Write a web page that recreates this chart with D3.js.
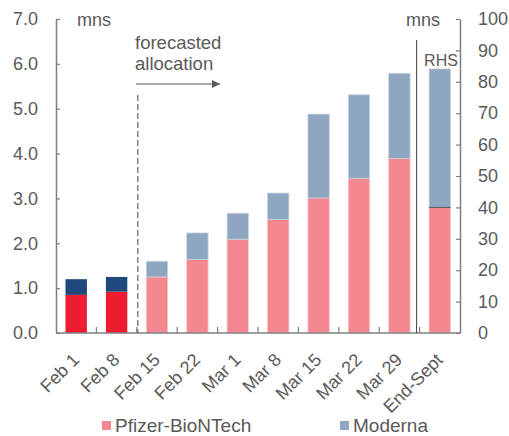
<!DOCTYPE html>
<html>
<head>
<meta charset="utf-8">
<script src="https://cdn.jsdelivr.net/npm/d3@7"></script>
<style>
  html, body { margin: 0; padding: 0; background: #fff; }
  svg { display: block; font-family: "Liberation Sans", Arial, sans-serif; }
</style>
</head>
<body>
<svg id="chart" width="509" height="436"></svg>
<script>
// Weekly vaccine allocations (millions of doses); last bar is read on the right-hand axis
const categories = ["Feb 1", "Feb 8", "Feb 15", "Feb 22", "Mar 1", "Mar 8", "Mar 15", "Mar 22", "Mar 29", "End-Sept"];
const pfizer  = [0.85, 0.92, 1.25, 1.64, 2.09, 2.53, 3.01, 3.45, 3.89, 40.0];
const moderna = [0.35, 0.33, 0.35, 0.59, 0.58, 0.59, 1.87, 1.86, 1.90, 44.1];
const isActual = [true, true, false, false, false, false, false, false, false, false];
const onRight  = [false, false, false, false, false, false, false, false, false, true];
const leftTicks  = [0, 1, 2, 3, 4, 5, 6, 7];
const rightTicks = [0, 10, 20, 30, 40, 50, 60, 70, 80, 90, 100];
const seriesNames = ["Pfizer-BioNTech", "Moderna"];

const colors = {
  pfizerActual: "#ED1C2E",
  modernaActual: "#1F497D",
  pfizerForecast: "#F4878F",
  modernaForecast: "#8EA6C0"
};
const axisColor = "#7f7f7f";
const textColor = "#595959";

const svg = d3.select("#chart");
const plotL = 56, plotR = 460, plotT = 19, plotB = 333;

const x = d3.scaleBand().domain(categories).range([plotL, plotR])
  .paddingInner(0.47).paddingOuter(0.235);
const yL = d3.scaleLinear().domain([0, 7]).range([plotB, plotT]);
const yR = d3.scaleLinear().domain([0, 100]).range([plotB, plotT]);

const rows = categories.map((c, i) => ({
  cat: c, p: pfizer[i], m: moderna[i], actual: isActual[i], scale: onRight[i] ? yR : yL
}));

// stacked bars
const g = svg.append("g");
rows.forEach(d => {
  const y = d.scale;
  g.append("rect")
    .attr("x", x(d.cat)).attr("width", x.bandwidth())
    .attr("y", y(d.p)).attr("height", y(0) - y(d.p))
    .attr("fill", d.actual ? colors.pfizerActual : colors.pfizerForecast)
    .attr("stroke", d.actual ? "none" : "#f7c9cd").attr("stroke-width", 0.8);
  g.append("rect")
    .attr("x", x(d.cat)).attr("width", x.bandwidth())
    .attr("y", y(d.p + d.m)).attr("height", y(d.p) - y(d.p + d.m))
    .attr("fill", d.actual ? colors.modernaActual : colors.modernaForecast)
    .attr("stroke", d.actual ? "none" : "#c9d4e2").attr("stroke-width", 0.8);
});
// thin divider on the right-hand bar between the two makers
rows.filter(d => d.scale === yR).forEach(d => {
  g.append("line")
    .attr("x1", x(d.cat)).attr("x2", x(d.cat) + x.bandwidth())
    .attr("y1", d.scale(d.p)).attr("y2", d.scale(d.p))
    .attr("stroke", "#555").attr("stroke-width", 1);
});

// left axis
const axL = svg.append("g").attr("transform", `translate(${plotL},0)`)
  .call(d3.axisLeft(yL).tickValues(leftTicks).tickFormat(d3.format(".1f")).tickSizeInner(-4).tickSizeOuter(0));
// right axis
const axR = svg.append("g").attr("transform", `translate(${plotR},0)`)
  .call(d3.axisRight(yR).tickValues(rightTicks).tickSizeInner(-4).tickSizeOuter(0));
[axL, axR].forEach(a => {
  a.select(".domain").attr("stroke", axisColor).attr("stroke-width", 1.5);
  a.selectAll(".tick line").attr("stroke", axisColor).attr("stroke-width", 1.2);
  a.selectAll(".tick text").attr("fill", textColor).attr("font-size", 18)
    .attr("font-family", "Liberation Sans, Arial, sans-serif").attr("text-anchor", "start");
});
axL.selectAll(".tick text").attr("x", 13 - plotL);
axR.selectAll(".tick text").attr("x", 18);

// x axis baseline, inward ticks at category boundaries
svg.append("line").attr("x1", plotL).attr("x2", plotR).attr("y1", plotB).attr("y2", plotB)
  .attr("stroke", axisColor).attr("stroke-width", 1.5);
d3.range(1, categories.length).forEach(i => {
  const bx = x.range()[0] + i * x.step();
  svg.append("line").attr("x1", bx).attr("x2", bx).attr("y1", plotB).attr("y2", plotB - 6)
    .attr("stroke", axisColor).attr("stroke-width", 1.2);
});
// category labels
svg.append("g").selectAll("text").data(categories).join("text")
  .attr("transform", d => `translate(${x(d) + x.bandwidth() / 2 - 5},${plotB + 19}) rotate(-45)`)
  .attr("text-anchor", "end").attr("dy", "0.71em")
  .attr("fill", textColor).attr("font-size", 18)
  .text(d => d);

// unit labels
svg.append("text").attr("x", 77).attr("y", 26).attr("fill", textColor).attr("font-size", 18).text("mns");
svg.append("text").attr("x", 440).attr("y", 26).attr("text-anchor", "end").attr("fill", textColor).attr("font-size", 18).text("mns");

// forecast divider and annotation
const fx = x.range()[0] + 2 * x.step() + 1;
svg.append("line").attr("x1", fx).attr("x2", fx).attr("y1", 95).attr("y2", plotB)
  .attr("stroke", "#666").attr("stroke-width", 1.2).attr("stroke-dasharray", "6,3");
svg.append("text").attr("x", 135).attr("y", 49).attr("fill", textColor).attr("font-size", 18.5).text("forecasted");
svg.append("text").attr("x", 135).attr("y", 70).attr("fill", textColor).attr("font-size", 18.5).text("allocation");
svg.append("defs").append("marker").attr("id", "arrow")
  .attr("viewBox", "0 0 10 10").attr("refX", 10).attr("refY", 5)
  .attr("markerWidth", 10).attr("markerHeight", 8).attr("markerUnits", "userSpaceOnUse").attr("orient", "auto")
  .append("path").attr("d", "M0,0 L10,5 L0,10 Z").attr("fill", "#595959");
svg.append("line").attr("x1", 136).attr("x2", 220).attr("y1", 84).attr("y2", 84)
  .attr("stroke", "#595959").attr("stroke-width", 1.2).attr("marker-end", "url(#arrow)");

// right-hand-side separator
const sx = x.range()[0] + 9 * x.step() - 3;
svg.append("line").attr("x1", sx).attr("x2", sx).attr("y1", 40).attr("y2", plotB)
  .attr("stroke", "#404040").attr("stroke-width", 1);
svg.append("text").attr("x", 441).attr("y", 66).attr("text-anchor", "middle")
  .attr("fill", textColor).attr("font-size", 16).text("RHS");

// legend
const legend = [
  { name: seriesNames[0], color: colors.pfizerForecast, x: 102 },
  { name: seriesNames[1], color: colors.modernaForecast, x: 340 }
];
legend.forEach(l => {
  svg.append("rect").attr("x", l.x).attr("y", 421).attr("width", 9).attr("height", 9).attr("fill", l.color);
  svg.append("text").attr("x", l.x + 13).attr("y", 432).attr("fill", textColor).attr("font-size", 19).text(l.name);
});
</script>
</body>
</html>
